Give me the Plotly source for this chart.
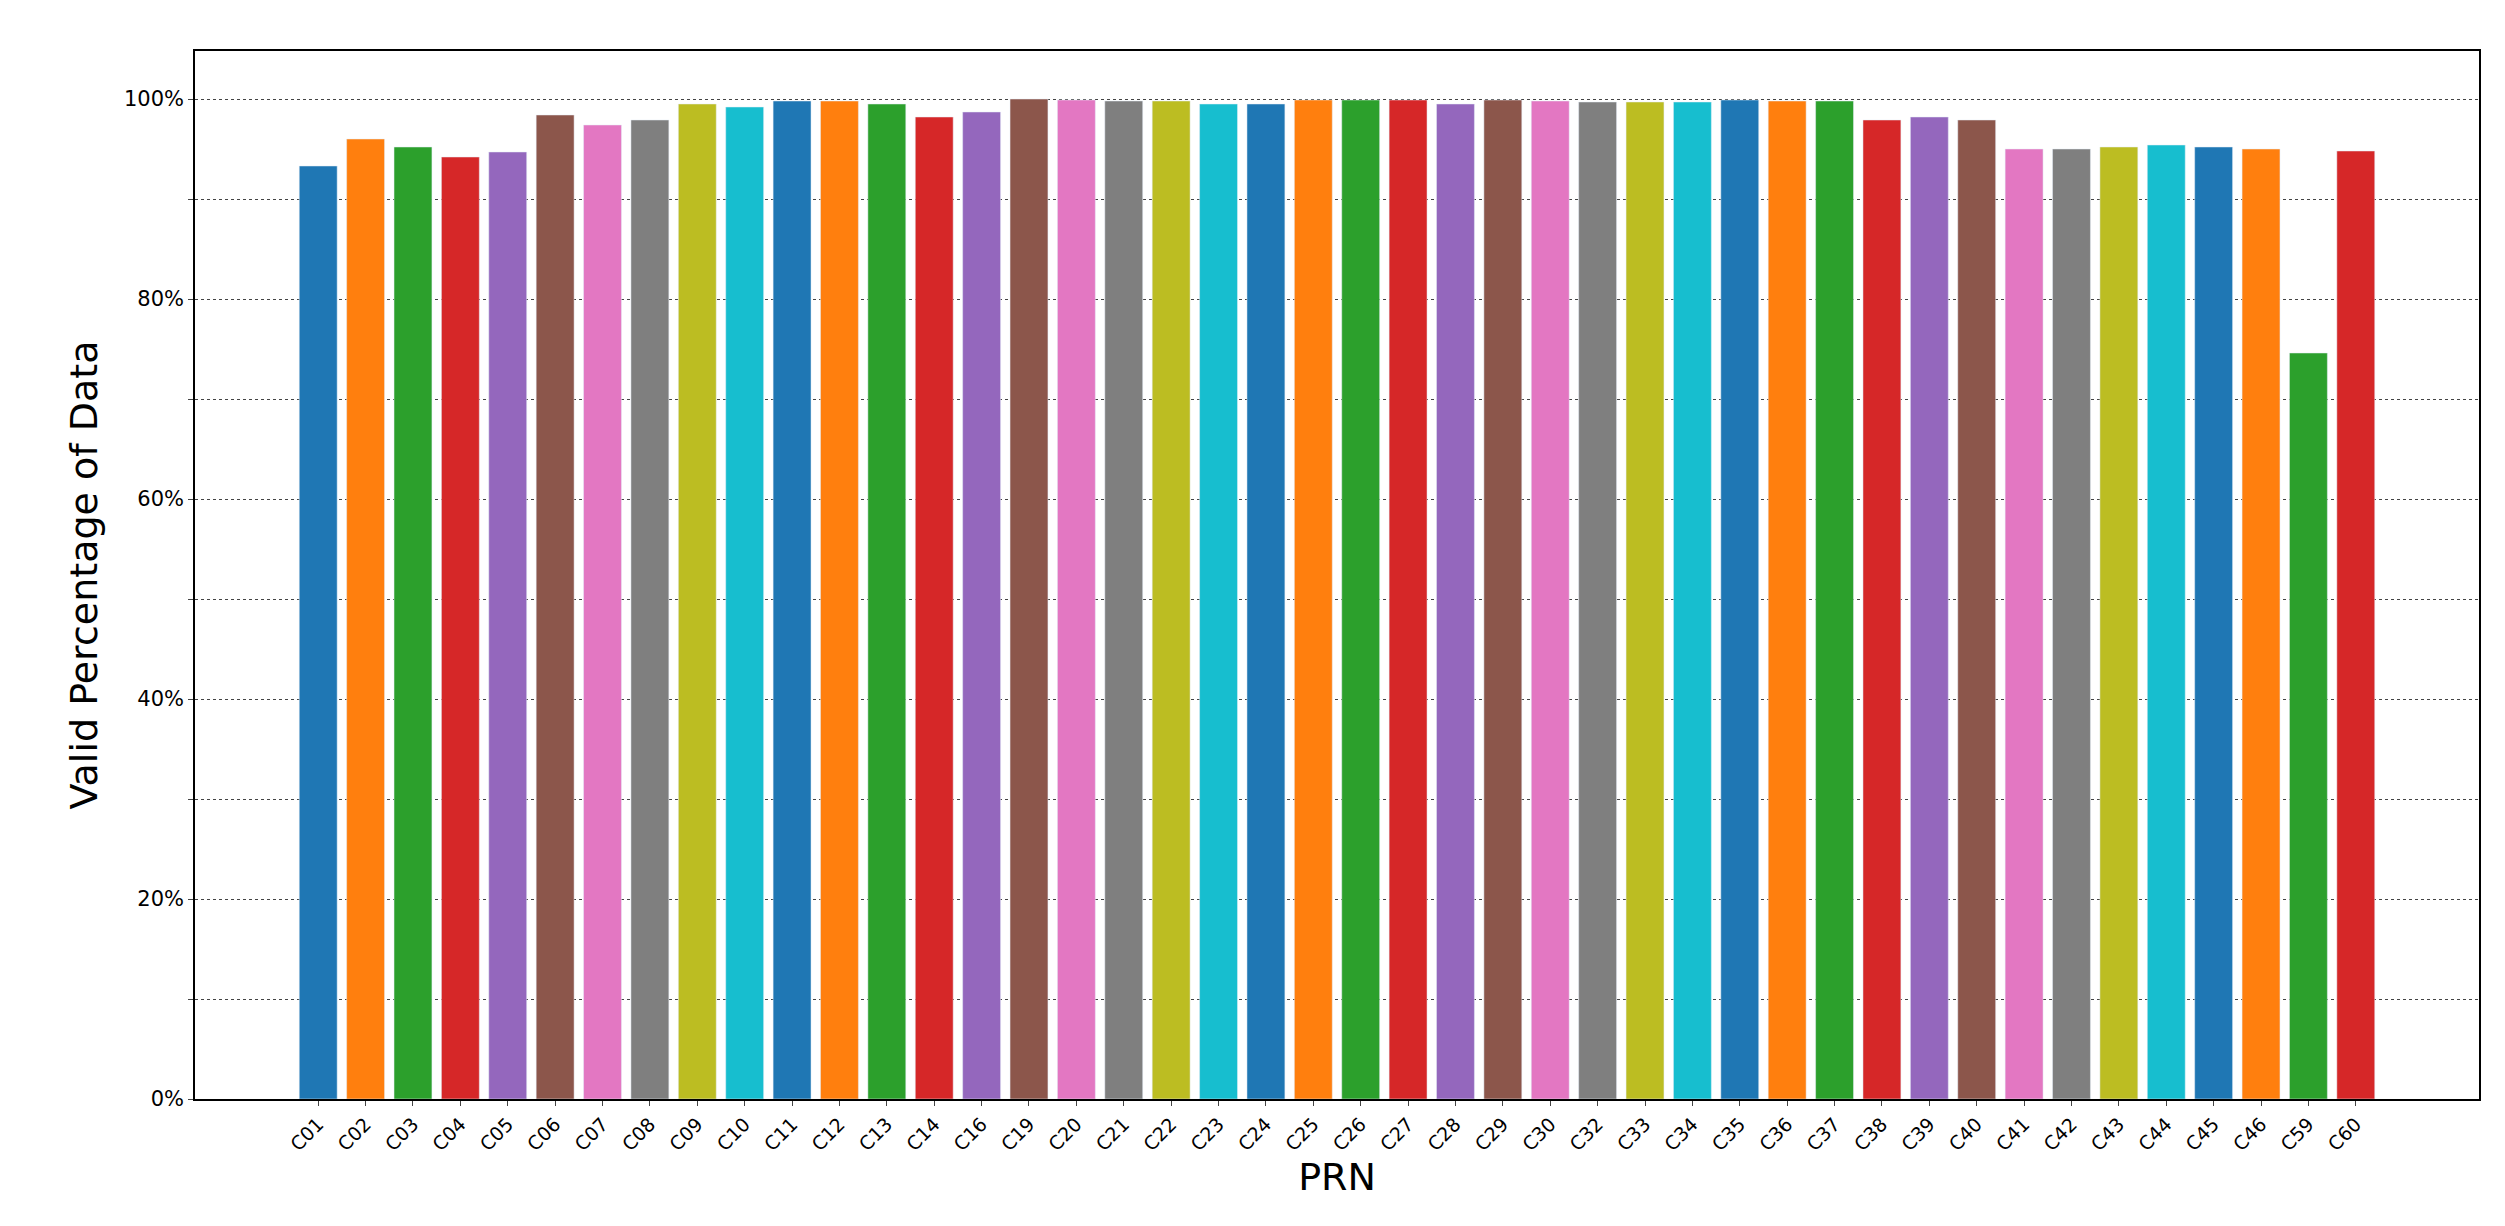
import plotly.graph_objects as go

prns = ["C01","C02","C03","C04","C05","C06","C07","C08","C09","C10","C11","C12","C13","C14","C16",
        "C19","C20","C21","C22","C23","C24","C25","C26","C27","C28","C29","C30","C32","C33","C34",
        "C35","C36","C37","C38","C39","C40","C41","C42","C43","C44","C45","C46","C59","C60"]
valid_pct = [93.3,96.0,95.2,94.2,94.7,98.4,97.4,97.9,99.5,99.2,99.8,99.8,99.5,98.2,98.7,
             100.0,99.9,99.8,99.8,99.5,99.5,99.9,99.9,99.9,99.5,99.9,99.8,99.7,99.7,99.7,
             99.9,99.8,99.8,97.9,98.2,97.9,95.0,95.0,95.2,95.4,95.2,95.0,74.6,94.8]
palette = ["#1f77b4","#ff7f0e","#2ca02c","#d62728","#9467bd","#8c564b","#e377c2","#7f7f7f","#bcbd22","#17becf"]
colors = [palette[i % 10] for i in range(len(prns))]

tickvals = list(range(0, 101, 10))
ticktext = [f"{v}%" if v % 20 == 0 else "" for v in tickvals]

fig = go.Figure(go.Bar(x=list(range(len(prns))), y=valid_pct, marker_color=colors, width=0.8))
fig.update_layout(
    width=2505, height=1226, plot_bgcolor="white", paper_bgcolor="white",
    margin=dict(l=187, r=34, t=43, b=135), showlegend=False,
    font=dict(family="DejaVu Sans", color="black"),
)
fig.update_xaxes(tickvals=list(range(len(prns))), ticktext=prns, tickangle=-45,
                 range=[-2.6, len(prns) - 1 + 2.6], showline=True, mirror=True,
                 linecolor="black", linewidth=1.5, ticks="outside", tickfont=dict(size=19),
                 title=dict(text="PRN", font=dict(size=38), standoff=8), showgrid=False)
fig.update_yaxes(tickvals=tickvals, ticktext=ticktext, range=[0, 104.8], showline=True, mirror=True,
                 linecolor="black", linewidth=1.5, ticks="outside", tickfont=dict(size=21),
                 title=dict(text="Valid Percentage of Data", font=dict(size=38)),
                 showgrid=True, gridcolor="#444", griddash="dot", gridwidth=1, zeroline=False)
fig.write_html("out.html")
